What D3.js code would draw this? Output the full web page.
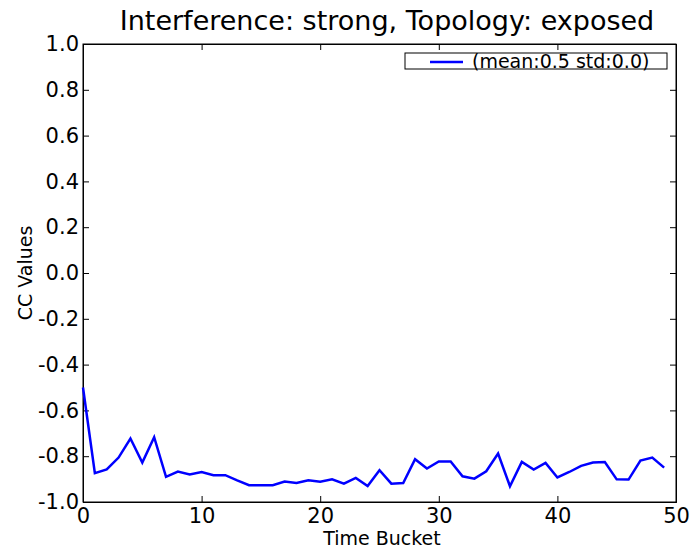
<!DOCTYPE html>
<html lang="en">
<head>
  <meta charset="UTF-8">
  <title>CC Values</title>
  <style>
    body { margin: 0; background: #fff; }
    svg { display: block; font-family: 'DejaVu Sans', sans-serif; }
  </style>
</head>
<body>
  <div id="chart"></div>
  <script src="https://d3js.org/d3.v7.min.js"></script>
  <script>
    const width = 694
    const height = 553
    const margin = { top: 44, right: 18, bottom: 51, left: 83 }

    // values, one per time bucket (0..49)
    const buckets = d3.range(50)
    const ccValues = [
      -0.50, -0.874, -0.858, -0.806, -0.723, -0.828, -0.717, -0.890, -0.867, -0.880,
      -0.869, -0.883, -0.883, -0.906, -0.927, -0.927, -0.927, -0.911, -0.917, -0.905,
      -0.911, -0.901, -0.920, -0.895, -0.930, -0.861, -0.920, -0.917, -0.813, -0.854,
      -0.823, -0.823, -0.888, -0.898, -0.866, -0.788, -0.931, -0.825, -0.858, -0.829,
      -0.893, -0.869, -0.842, -0.828, -0.825, -0.901, -0.902, -0.819, -0.806, -0.850
    ]
    const xTicks = [0, 10, 20, 30, 40, 50]
    const yTicks = [-1.0, -0.8, -0.6, -0.4, -0.2, 0.0, 0.2, 0.4, 0.6, 0.8, 1.0]
    const legendLabel = '(mean:0.5 std:0.0)'

    const innerW = width - margin.left - margin.right
    const innerH = height - margin.top - margin.bottom

    const svg = d3.select('#chart').append('svg')
      .attr('width', width)
      .attr('height', height)

    const g = svg.append('g')
      .attr('transform', `translate(${margin.left}, ${margin.top})`)

    const x = d3.scaleLinear().domain([0, 50]).range([0, innerW])
    const y = d3.scaleLinear().domain([-1, 1]).range([innerH, 0])

    const fmtY = d => d3.format('.1f')(d).replace('−', '-')

    // axes: ticks point inward on all four sides
    const tickLen = 6
    g.append('g')
      .attr('transform', `translate(0, ${innerH})`)
      .call(d3.axisBottom(x).tickValues(xTicks).tickSize(-tickLen).tickPadding(6).tickFormat(d3.format('d')))
    g.append('g')
      .call(d3.axisTop(x).tickValues(xTicks).tickSize(-tickLen).tickFormat(''))
    g.append('g')
      .call(d3.axisLeft(y).tickValues(yTicks).tickSize(-tickLen).tickPadding(4).tickFormat(fmtY))
    g.append('g')
      .attr('transform', `translate(${innerW}, 0)`)
      .call(d3.axisRight(y).tickValues(yTicks).tickSize(-tickLen).tickFormat(''))

    g.selectAll('.domain').attr('stroke', '#000')
    g.selectAll('.tick line').attr('stroke', '#000')
    g.selectAll('.tick text')
      .attr('fill', '#000')
      .style('font-size', '21px')
      .style('font-family', "'DejaVu Sans', sans-serif")

    // frame
    g.append('rect')
      .attr('width', innerW)
      .attr('height', innerH)
      .attr('fill', 'none')
      .attr('stroke', '#000')
      .attr('stroke-width', 1)

    const line = d3.line()
      .x((d, i) => x(buckets[i]))
      .y(d => y(d))

    g.append('path')
      .datum(ccValues)
      .attr('d', line)
      .attr('fill', 'none')
      .attr('stroke', '#0000ff')
      .attr('stroke-width', 2.5)
      .attr('stroke-linejoin', 'miter')

    // title and axis labels
    svg.append('text')
      .attr('x', 387)
      .attr('y', 30)
      .attr('text-anchor', 'middle')
      .style('font-size', '27px')
      .text('Interference: strong, Topology: exposed')

    svg.append('text')
      .attr('x', 382)
      .attr('y', 545)
      .attr('text-anchor', 'middle')
      .style('font-size', '19px')
      .text('Time Bucket')

    svg.append('text')
      .attr('transform', `translate(32, ${margin.top + innerH / 2}) rotate(-90)`)
      .attr('text-anchor', 'middle')
      .style('font-size', '19px')
      .text('CC Values')

    // legend
    const lg = svg.append('g').attr('transform', 'translate(405, 53)')
    lg.append('rect')
      .attr('width', 262)
      .attr('height', 16)
      .attr('fill', '#fff')
      .attr('stroke', '#000')
    lg.append('line')
      .attr('x1', 25).attr('x2', 58)
      .attr('y1', 9).attr('y2', 9)
      .attr('stroke', '#0000ff')
      .attr('stroke-width', 2.5)
    lg.append('text')
      .attr('x', 67)
      .attr('y', 14.5)
      .style('font-size', '19px')
      .text(legendLabel)
  </script>
</body>
</html>
